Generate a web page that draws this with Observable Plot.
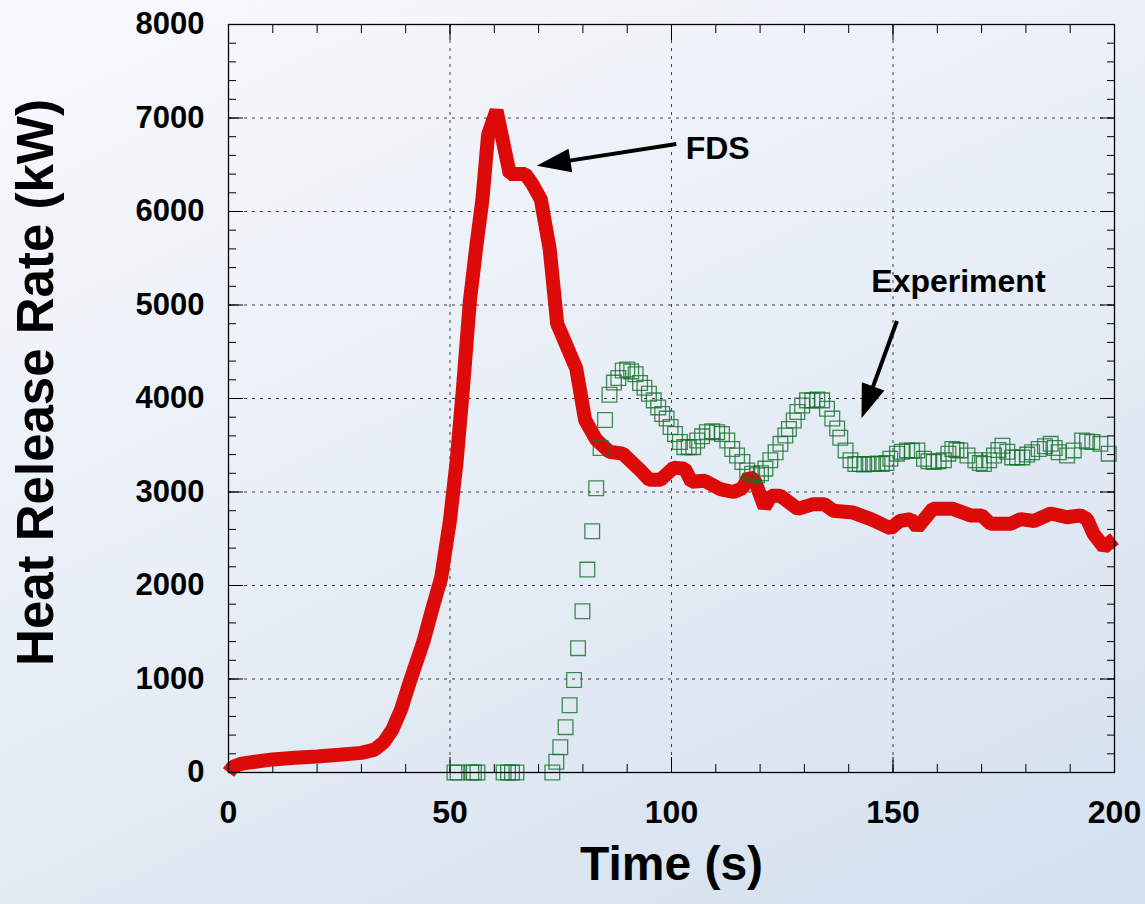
<!DOCTYPE html>
<html>
<head>
<meta charset="utf-8">
<script src="https://cdn.jsdelivr.net/npm/d3@7"></script>
<script src="https://cdn.jsdelivr.net/npm/@observablehq/plot@0.6"></script>
<style>
  html, body { margin: 0; padding: 0; }
  body {
    width: 1145px; height: 904px; overflow: hidden;
    background: linear-gradient(155deg, #f7f9fc 0%, #e9eff7 45%, #d3e0ee 100%);
  }
  #chart svg { display: block; }
</style>
</head>
<body>
<div id="chart"></div>
<script>
// ---- FDS simulation (red line) ----
const fdsTime = [0, 1, 3, 6, 10, 15, 20, 25, 30, 33,
                 35, 37, 39, 41, 44, 46, 48, 50, 51.5, 53,
                 54.5, 56, 57.3, 58.6, 60.5, 63.5, 67, 68.5, 70.5, 72.5,
                 74.2, 76, 78.5, 80.5, 83, 86, 89, 93, 95, 97.5,
                 100.5, 103, 104.5, 107.5, 111, 114, 116, 117.5, 118.8, 121,
                 122.5, 124.5, 128.5, 132, 134.5, 136.5, 141, 145, 149.5, 151.5,
                 154, 155.5, 159, 163.5, 167.5, 170, 172, 176.5, 178.8, 181.8,
                 185.6, 189.3, 192.3, 193.8, 195.3, 197.6, 200];
const fdsHRR  = [0, 60, 95, 115, 140, 158, 172, 190, 210, 245,
                 320, 460, 680, 980, 1400, 1750, 2080, 2700, 3330, 4150,
                 5050, 5650, 6120, 6820, 7080, 6400, 6400, 6300, 6130, 5600,
                 4800, 4600, 4320, 3770, 3560, 3430, 3410, 3230, 3130, 3130,
                 3260, 3250, 3110, 3120, 3030, 3000, 3040, 3170, 3120, 2840,
                 2960, 2960, 2820, 2870, 2870, 2800, 2780, 2710, 2610, 2690,
                 2710, 2620, 2820, 2820, 2750, 2750, 2660, 2660, 2710, 2690,
                 2770, 2730, 2750, 2710, 2550, 2410, 2500];

// ---- Experiment (green open squares) ----
const expTime = [51, 51.7, 54.8, 55.4, 56.2, 62.1, 63.1, 64, 65, 73.1,
                 74, 74.9, 76.1, 77, 78, 78.9, 79.9, 81, 82.1, 83,
                 84, 85, 86, 87, 88, 89, 90, 90.9, 91.9, 92.9,
                 93.9, 94.9, 96, 97, 97.9, 98.9, 99.8, 100.8, 101.9, 102.9,
                 103.9, 104.9, 105.8, 106.9, 108, 109.2, 110.3, 111.4, 112.6, 113.7,
                 114.8, 116, 117.1, 118.2, 119.3, 120.2, 121.2, 122.3, 123.5, 124.6,
                 125.7, 126.5, 127.6, 128.4, 129.5, 130.6, 131.8, 132.9, 134, 135.1,
                 136.3, 137.4, 138.1, 139.3, 140.4, 141.5, 142.5, 143.5, 144.5, 145.5,
                 146.5, 147.5, 148.5, 149.4, 150.9, 152, 153.2, 154.3, 155.5, 157,
                 158, 159.2, 160.3, 161.5, 162.5, 163.4, 164.3, 165.2, 166.8, 168.6,
                 169.6, 170.5, 171.7, 172.8, 173.8, 174.7, 175.8, 176.9, 178, 179.2,
                 180.3, 181.4, 182.9, 184.3, 185.6, 186.5, 187.4, 189.3, 190.8, 192.7,
                 193.8, 195, 196.8, 198.7];
const expHRR  = [0, 0, 0, 0, 0, 0, 0, 0, 0, 0,
                 115, 270, 485, 720, 990, 1330, 1725, 2170, 2580, 3040,
                 3470, 3770, 4040, 4170, 4220, 4300, 4310, 4290, 4260, 4165,
                 4115, 4050, 3980, 3905, 3835, 3785, 3695, 3620, 3535, 3480,
                 3480, 3480, 3550, 3595, 3640, 3650, 3640, 3620, 3550, 3460,
                 3390, 3320, 3230, 3195, 3180, 3200, 3250, 3340, 3425, 3515,
                 3605, 3675, 3765, 3855, 3925, 3980, 3980, 3990, 3980, 3890,
                 3785, 3680, 3580, 3445, 3340, 3300, 3300, 3295, 3300, 3300,
                 3305, 3300, 3310, 3355, 3410, 3430, 3445, 3440, 3445, 3355,
                 3330, 3320, 3330, 3340, 3410, 3460, 3450, 3445, 3390, 3340,
                 3310, 3300, 3340, 3390, 3450, 3495, 3430, 3370, 3370, 3370,
                 3400, 3425, 3460, 3490, 3515, 3470, 3425, 3390, 3445, 3550,
                 3540, 3535, 3515, 3410];

// ---- Axis ticks ----
const xTicksMajor = [0, 50, 100, 150, 200];
const yTicksMajor = [0, 1000, 2000, 3000, 4000, 5000, 6000, 7000, 8000];
const xTicksMinor = d3.range(0, 201, 10);
const yTicksMinor = d3.range(0, 8001, 200);

// ---- Annotations (data coordinates) ----
const annoText = ["FDS", "Experiment"];
const annoX    = [103.2, 145.1];
const annoY    = [6674, 5244];
const arrowX1  = [101.2, 151.0];
const arrowY1  = [6717, 4824];
const arrowX2  = [69.7, 143.0];
const arrowY2  = [6484, 3783];

const fds = fdsTime.map((t, i) => ({t, v: fdsHRR[i]}));
const exp = expTime.map((t, i) => ({t, v: expHRR[i]}));
const annos = annoText.map((s, i) => ({s, x: annoX[i], y: annoY[i]}));
const arrows = arrowX1.map((x1, i) => ({x1, y1: arrowY1[i], x2: arrowX2[i], y2: arrowY2[i]}));

const FONT = "'Liberation Sans', Arial, Helvetica, sans-serif";

// Filled-head arrows positioned with the plot's own scales
function arrowMark(data) {
  return (index, scales) => {
    const g = d3.create("svg:g").attr("fill", "black").attr("stroke", "black");
    const L = 34, W = 24;
    for (const a of data) {
      const x1 = scales.x(a.x1), y1 = scales.y(a.y1);
      const x2 = scales.x(a.x2), y2 = scales.y(a.y2);
      const ang = Math.atan2(y2 - y1, x2 - x1);
      const c = Math.cos(ang), s = Math.sin(ang);
      const bx = x2 - L * c, by = y2 - L * s;
      g.append("line")
        .attr("x1", x1).attr("y1", y1)
        .attr("x2", bx + 4 * c).attr("y2", by + 4 * s)
        .attr("stroke-width", 4);
      g.append("path")
        .attr("stroke", "none")
        .attr("d", `M${x2},${y2}L${bx - (W / 2) * s},${by + (W / 2) * c}L${bx + (W / 2) * s},${by - (W / 2) * c}Z`);
    }
    return g.node();
  };
}

const gridStyle = {stroke: "#222", strokeOpacity: 0.85, strokeWidth: 1, strokeDasharray: "3,5"};

const plot = Plot.plot({
  width: 1145,
  height: 904,
  marginLeft: 228,
  marginRight: 31,
  marginTop: 24,
  marginBottom: 132,
  style: {background: "transparent", fontFamily: FONT, overflow: "visible", color: "black"},
  x: {domain: [0, 200]},
  y: {domain: [0, 8000]},
  marks: [
    Plot.gridX({ticks: xTicksMajor.slice(1, -1), ...gridStyle}),
    Plot.gridY({ticks: yTicksMajor.slice(1, -1), ...gridStyle}),
    // minor ticks, inward, on all four sides
    Plot.axisX({anchor: "bottom", ticks: xTicksMinor, tickSize: -8, tickFormat: () => "", label: null}),
    Plot.axisX({anchor: "top", ticks: xTicksMinor, tickSize: -8, tickFormat: () => "", label: null}),
    Plot.axisY({anchor: "left", ticks: yTicksMinor, tickSize: -8, tickFormat: () => "", label: null}),
    Plot.axisY({anchor: "right", ticks: yTicksMinor, tickSize: -8, tickFormat: () => "", label: null}),
    // major ticks, inward
    Plot.axisX({anchor: "bottom", ticks: xTicksMajor, tickSize: -15, tickFormat: () => "", label: null}),
    Plot.axisX({anchor: "top", ticks: xTicksMajor, tickSize: -15, tickFormat: () => "", label: null}),
    Plot.axisY({anchor: "left", ticks: yTicksMajor, tickSize: -15, tickFormat: () => "", label: null}),
    Plot.axisY({anchor: "right", ticks: yTicksMajor, tickSize: -15, tickFormat: () => "", label: null}),
    // tick labels
    Plot.axisX({anchor: "bottom", ticks: xTicksMajor, tickSize: 0, tickPadding: 28, tickFormat: d => String(d),
                fontSize: 32, fontWeight: "bold", fontFamily: FONT, label: null}),
    Plot.axisY({anchor: "left", ticks: yTicksMajor, tickSize: 0, tickPadding: 24, tickFormat: d => String(d),
                fontSize: 31, fontWeight: "bold", fontFamily: FONT, label: null}),
    // data
    Plot.line(fds, {x: "t", y: "v", stroke: "#dd0a0a", strokeWidth: 14, strokeLinejoin: "miter", strokeLinecap: "butt"}),
    Plot.dot(exp, {x: "t", y: "v", symbol: "square", r: 8.3, fill: "none",
                   stroke: "#137029", strokeWidth: 1.3, strokeOpacity: 0.8}),
    Plot.frame({stroke: "black", strokeWidth: 1.3}),
    // axis titles
    Plot.text(["Time (s)"], {text: d => d, frameAnchor: "bottom", dy: 107, textAnchor: "middle",
                             fontSize: 48, fontWeight: "bold", fontFamily: FONT, fill: "black"}),
    Plot.text(["Heat Release Rate (kW)"], {text: d => d, frameAnchor: "left", textAnchor: "middle", lineAnchor: "middle",
                             dx: -192, dy: -16, rotate: -90,
                             fontSize: 51, fontWeight: "bold", fontFamily: FONT, fill: "black"}),
    // annotations
    Plot.text(annos, {x: "x", y: "y", text: "s", textAnchor: "start",
                      fontSize: 32, fontWeight: "bold", fontFamily: FONT, fill: "black"}),
    arrowMark(arrows)
  ]
});

document.getElementById("chart").appendChild(plot);
</script>
</body>
</html>
